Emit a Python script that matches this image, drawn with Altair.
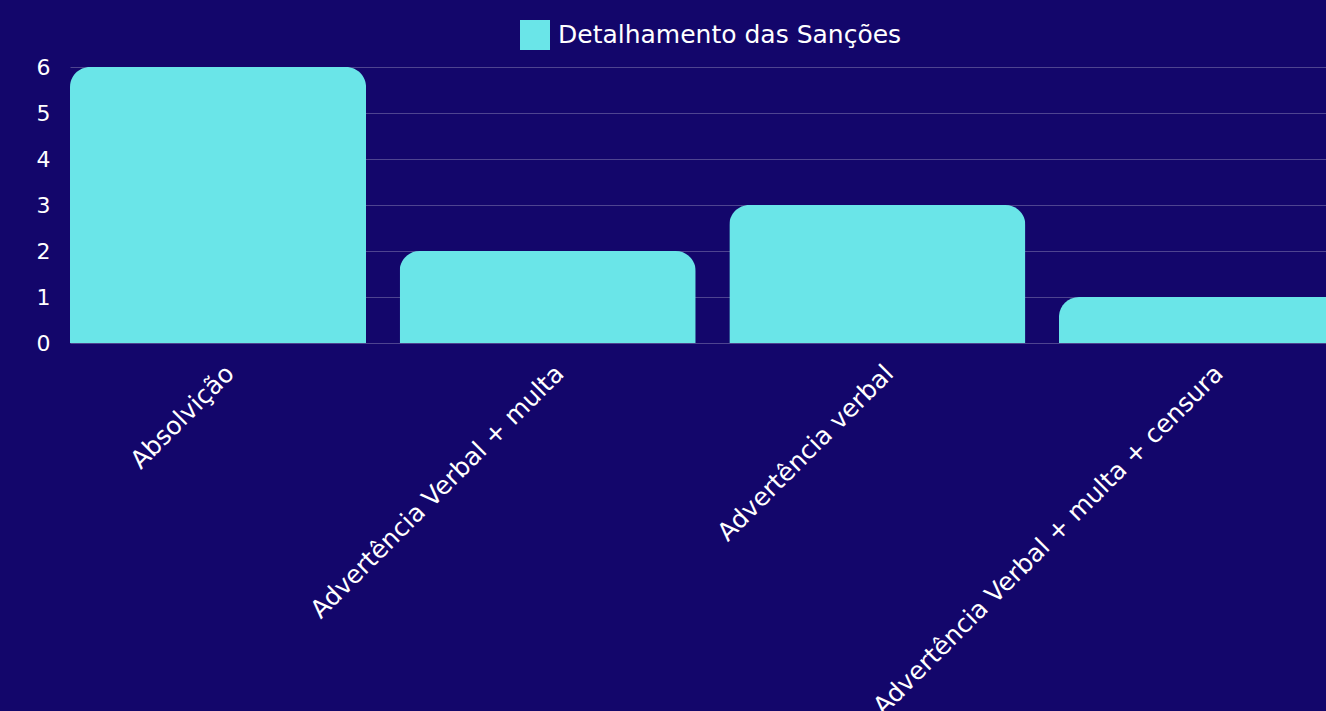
import altair as alt
import pandas as pd

categories = [
    "Absolvição",
    "Advertência Verbal + multa",
    "Advertência verbal",
    "Advertência Verbal + multa + censura",
]
values = [6, 2, 3, 1]
series_name = "Detalhamento das Sanções"
y_ticks = [0, 1, 2, 3, 4, 5, 6]

BG = "#13066b"
BAR = "#6ae5e8"
FONT = "DejaVu Sans"

df = pd.DataFrame({"cat": categories, "val": values, "series": [series_name] * len(categories)})

chart = (
    alt.Chart(df)
    .mark_bar(cornerRadiusTopLeft=20, cornerRadiusTopRight=20)
    .encode(
        x=alt.X(
            "cat:N",
            sort=categories,
            title=None,
            scale=alt.Scale(range=[0, 1285], paddingInner=0.102, paddingOuter=0),
            axis=alt.Axis(
                labelAngle=-45,
                labelAlign="right",
                labelBaseline="middle",
                labelOffset=12,
                labelPadding=26,
                labelFontSize=25,
                labelFontWeight="normal",
                labelColor="white",
                labelFont=FONT,
                labelLimit=1000,
                ticks=False,
                domain=False,
                grid=False,
            ),
        ),
        y=alt.Y(
            "val:Q",
            title=None,
            scale=alt.Scale(domain=[0, 6], nice=False),
            axis=alt.Axis(
                values=y_ticks,
                labelFontSize=22,
                labelFontWeight="normal",
                labelColor="white",
                labelFont=FONT,
                labelPadding=20,
                ticks=False,
                domain=False,
                grid=True,
                gridColor="white",
                gridOpacity=0.25,
                gridWidth=1,
            ),
        ),
        color=alt.Color(
            "series:N",
            scale=alt.Scale(range=[BAR]),
            legend=alt.Legend(
                title=None,
                orient="none",
                legendX=450,
                legendY=-47,
                symbolType="square",
                symbolSize=900,
                symbolStrokeWidth=0,
                labelOffset=8,
                labelFontSize=25,
                labelFontWeight="normal",
                labelColor="white",
                labelFont=FONT,
                labelLimit=1000,
            ),
        ),
    )
    .properties(
        width=1256,
        height=276,
        background=BG,
        autosize=alt.AutoSizeParams(type="none"),
        padding={"left": 70, "top": 67, "right": 0, "bottom": 368},
    )
    .configure_view(stroke=None)
)

chart.save("out.html", embed_options={"renderer": "svg", "actions": False})
